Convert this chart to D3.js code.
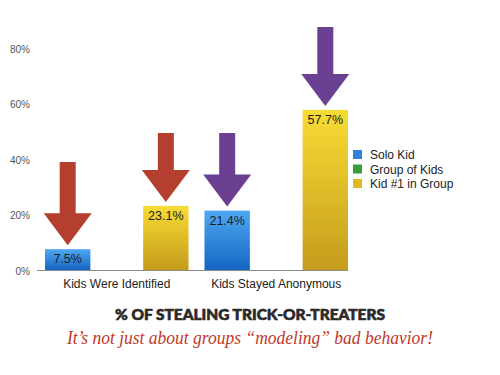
<!DOCTYPE html>
<html><head><meta charset="utf-8">
<script src="https://cdn.jsdelivr.net/npm/d3@7"></script>
<style>body{margin:0;background:#fff}svg{display:block}</style>
</head><body><div id="chart"></div>
<script>
const categories = ["Kids Were Identified", "Kids Stayed Anonymous"];
const seriesNames = ["Solo Kid", "Group of Kids", "Kid #1 in Group"];
const soloKid = [7.5, 21.4];
const groupOfKids = [0, 0];
const kidOneInGroup = [23.1, 57.7];
const yTicks = [0, 20, 40, 60, 80];
// arrows: [category index, series index, top of arrow in % units]
const arrowCat = [0, 0, 1, 1];
const arrowSeries = [0, 2, 0, 2];
const arrowTop = [38.9, 49.4, 49.4, 87.6];
const arrowColor = ["#b43f2f", "#b43f2f", "#6b3f92", "#6b3f92"];
const title = "% OF STEALING TRICK-OR-TREATERS";
const subtitle = "It\u2019s not just about groups \u201cmodeling\u201d bad behavior!";

const W = 500, H = 375;
const svg = d3.select("#chart").append("svg").attr("width", W).attr("height", H);
const defs = svg.append("defs");
const grads = [
  {id: "gBlue", top: "#4fa8f2", bot: "#1466c2"},
  {id: "gGreen", top: "#5cc04f", bot: "#2a8a2a"},
  {id: "gYellow", top: "#f7dc35", bot: "#c59c1c"}
];
grads.forEach(g => {
  const lg = defs.append("linearGradient").attr("id", g.id).attr("x1", 0).attr("y1", 0).attr("x2", 0).attr("y2", 1);
  lg.append("stop").attr("offset", "0%").attr("stop-color", g.top);
  lg.append("stop").attr("offset", "100%").attr("stop-color", g.bot);
});
const legendColors = ["#2b84d8", "#3a9d35", "#e0b924"];

const values = [soloKid, groupOfKids, kidOneInGroup];
const y = d3.scaleLinear().domain([0, 80]).range([270, 48]);
const x0 = d3.scaleBand().domain(categories).range([45, 348]).paddingInner(0.1).paddingOuter(0);
const x1 = d3.scaleBand().domain(seriesNames).range([0, x0.bandwidth()]).paddingInner(0.075).paddingOuter(0);

// y axis labels
const yAxis = d3.axisLeft(y).tickValues(yTicks).tickSize(0).tickPadding(0).tickFormat(d => d + "%");
const ya = svg.append("g").attr("transform", "translate(30,1)").call(yAxis);
ya.select(".domain").remove();
ya.selectAll("text").attr("font-family", "Liberation Sans, Arial, sans-serif").attr("font-size", 10).attr("fill", "#555");

// bars
const data = [];
categories.forEach((c, ci) => seriesNames.forEach((s, si) => data.push({c, s, ci, si, v: values[si][ci]})));
svg.append("g").selectAll("rect").data(data).join("rect")
  .attr("x", d => x0(d.c) + x1(d.s))
  .attr("y", d => y(d.v))
  .attr("width", x1.bandwidth())
  .attr("height", d => y(0) - y(d.v))
  .attr("fill", d => "url(#" + grads[d.si].id + ")");

// baseline
svg.append("line").attr("x1", 37).attr("x2", 348).attr("y1", y(0) + 0.5).attr("y2", y(0) + 0.5)
  .attr("stroke", "#8c8c8c").attr("stroke-width", 1.2);

// value labels
svg.append("g").selectAll("text").data(data.filter(d => d.v > 0)).join("text")
  .attr("x", d => x0(d.c) + x1(d.s) + x1.bandwidth() / 2)
  .attr("y", d => y(d.v) + 14)
  .attr("text-anchor", "middle")
  .attr("font-family", "Liberation Sans, Arial, sans-serif")
  .attr("font-size", 12.5)
  .attr("fill", "#1c1c1c")
  .text(d => d.v.toFixed(1) + "%");

// category labels
svg.append("g").selectAll("text").data(categories).join("text")
  .attr("x", d => x0(d) + x0.bandwidth() / 2)
  .attr("y", 288)
  .attr("text-anchor", "middle")
  .attr("font-family", "Liberation Sans, Arial, sans-serif")
  .attr("font-size", 12)
  .attr("fill", "#222")
  .text(d => d);

// arrows
const arrows = arrowCat.map((ci, i) => ({ci, si: arrowSeries[i], top: arrowTop[i], color: arrowColor[i]}));
svg.append("g").selectAll("path").data(arrows).join("path")
  .attr("d", a => {
    const cx = x0(categories[a.ci]) + x1(seriesNames[a.si]) + x1.bandwidth() / 2;
    const tip = y(values[a.si][a.ci]) - 4;
    const top = y(a.top);
    const headH = 32, headW = 48, shaftW = 16;
    const hy = tip - headH;
    return `M${cx - shaftW / 2},${top}L${cx + shaftW / 2},${top}L${cx + shaftW / 2},${hy}L${cx + headW / 2},${hy}L${cx},${tip}L${cx - headW / 2},${hy}L${cx - shaftW / 2},${hy}Z`;
  })
  .attr("fill", a => a.color);

// legend
const lg = svg.append("g").attr("transform", "translate(353,150)");
seriesNames.forEach((s, i) => {
  lg.append("rect").attr("x", 0).attr("y", i * 14.5).attr("width", 9).attr("height", 9).attr("fill", legendColors[i]);
  lg.append("text").attr("x", 17).attr("y", i * 14.5 + 9).attr("font-family", "Liberation Sans, Arial, sans-serif")
    .attr("font-size", 12).attr("fill", "#222").text(s);
});

// title
svg.append("text").attr("x", 250).attr("y", 320).attr("text-anchor", "middle")
  .attr("font-family", "Lato, 'DejaVu Sans', sans-serif").attr("font-weight", 900)
  .attr("font-size", 14.5).attr("fill", "#2a2a2a").attr("stroke", "#2a2a2a").attr("stroke-width", 0.6)
  .attr("textLength", 270).attr("lengthAdjust", "spacingAndGlyphs")
  .text(title);

svg.append("text").attr("x", 250).attr("y", 344).attr("text-anchor", "middle")
  .attr("font-family", "'Liberation Serif', 'DejaVu Serif', serif").attr("font-style", "italic")
  .attr("font-size", 18).attr("fill", "#c0392b")
  .attr("textLength", 366).attr("lengthAdjust", "spacingAndGlyphs")
  .text(subtitle);
</script></body></html>
